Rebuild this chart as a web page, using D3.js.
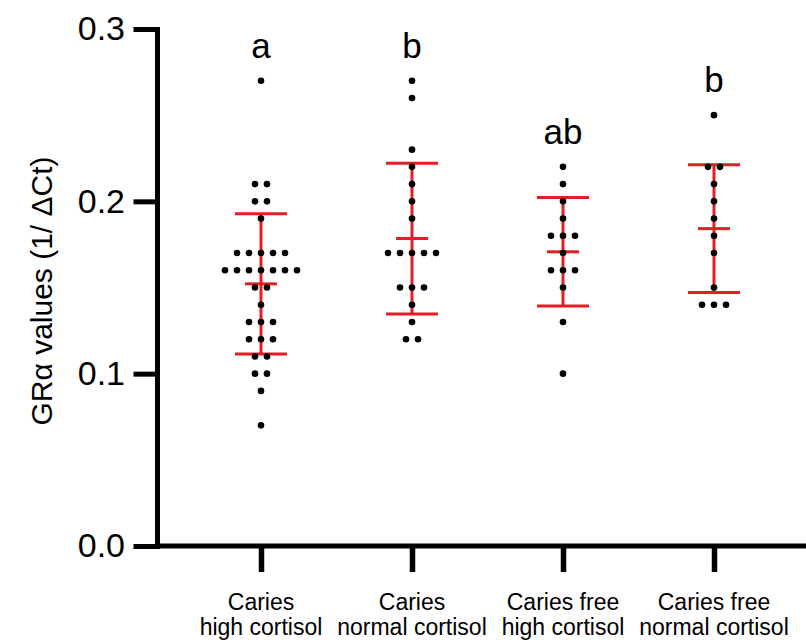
<!DOCTYPE html>
<html>
<head>
<meta charset="utf-8">
<script src="https://cdn.jsdelivr.net/npm/d3@7"></script>
<style>
  body { margin: 0; background: #fff; }
  text { font-family: Arial, "Liberation Sans", sans-serif; fill: #000; }
</style>
</head>
<body>
<div id="chart"></div>
<script>
// values (rounded to 0.01 like the dots)
const cariesHigh = [0.27, 0.21, 0.21, 0.20, 0.20, 0.19, 0.17, 0.17, 0.17, 0.17, 0.17,
  0.16, 0.16, 0.16, 0.16, 0.16, 0.16, 0.16, 0.15, 0.15, 0.14, 0.13, 0.13, 0.13,
  0.12, 0.12, 0.12, 0.11, 0.11, 0.10, 0.10, 0.09, 0.07];
const cariesNormal = [0.27, 0.26, 0.23, 0.22, 0.21, 0.20, 0.19, 0.17, 0.17, 0.17, 0.17,
  0.17, 0.15, 0.15, 0.15, 0.14, 0.13, 0.12, 0.12];
const freeHigh = [0.22, 0.21, 0.20, 0.19, 0.18, 0.18, 0.18, 0.17, 0.16, 0.16, 0.16,
  0.15, 0.13, 0.10];
const freeNormal = [0.25, 0.22, 0.22, 0.21, 0.20, 0.19, 0.18, 0.17, 0.15, 0.14, 0.14, 0.14];

const groups = ["ch", "cn", "fh", "fn"];
const groupValues = [cariesHigh, cariesNormal, freeHigh, freeNormal];
const groupLabels = [
  ["Caries", "high cortisol"],
  ["Caries", "normal cortisol"],
  ["Caries free", "high cortisol"],
  ["Caries free", "normal cortisol"],
];
const sigLetters = ["a", "b", "ab", "b"];
const yTicks = [0, 0.1, 0.2, 0.3];

const width = 806, height = 643;
const axisX = 157, axisY = 546;
const red = "#e31e24";

const svg = d3.select("#chart").append("svg")
  .attr("width", width)
  .attr("height", height);

const y = d3.scaleLinear().domain([0, 0.3]).range([axisY, 29]);
const x = d3.scalePoint().domain(groups).range([261, 714]);

// axes
const yAxis = svg.append("g")
  .attr("transform", `translate(${axisX},0)`)
  .call(d3.axisLeft(y).tickValues(yTicks).tickSize(21).tickSizeOuter(0)
    .tickPadding(11).tickFormat(d3.format(".1f")));
yAxis.selectAll("line, path").attr("stroke", "#000").attr("stroke-width", 5)
  .attr("stroke-linecap", "square");
yAxis.selectAll("text").style("font-size", "34px")
  .style("font-family", "Arial, 'Liberation Sans', sans-serif");

const xAxis = svg.append("g")
  .attr("transform", `translate(0,${axisY})`)
  .call(d3.axisBottom(x).tickSize(26).tickFormat(""));
xAxis.select(".domain").remove();
xAxis.selectAll("line").attr("stroke", "#000").attr("stroke-width", 5.5);
xAxis.append("line")
  .attr("x1", axisX).attr("x2", width)
  .attr("stroke", "#000").attr("stroke-width", 5);

const labels = svg.append("g")
  .selectAll("text")
  .data(groupLabels)
  .enter()
  .append("text")
  .attr("text-anchor", "middle")
  .style("font-size", "23px");
labels.selectAll("tspan")
  .data((d, i) => d.map((t, k) => ({ t, k, g: groups[i] })))
  .enter()
  .append("tspan")
  .attr("x", (d) => x(d.g))
  .attr("y", (d) => axisY + 64 + d.k * 25)
  .text((d) => d.t);

// y title
svg.append("text")
  .attr("transform", "translate(52,291) rotate(-90)")
  .attr("text-anchor", "middle")
  .style("font-size", "30px")
  .text("GRα values (1/ ΔCt)");

// error bars: mean ± SD
const stats = groupValues.map((v, i) => {
  const m = d3.mean(v), sd = d3.deviation(v);
  return { g: groups[i], mean: m, lo: m - sd, hi: m + sd };
});

const bars = svg.append("g").selectAll("g")
  .data(stats)
  .enter()
  .append("g")
  .attr("stroke", red)
  .attr("stroke-width", 3);
bars.append("line")
  .attr("x1", (d) => x(d.g)).attr("x2", (d) => x(d.g))
  .attr("y1", (d) => y(d.lo)).attr("y2", (d) => y(d.hi));
[["hi", 26], ["lo", 26], ["mean", 16]].forEach(([k, w]) => {
  bars.append("line")
    .attr("x1", (d) => x(d.g) - w).attr("x2", (d) => x(d.g) + w)
    .attr("y1", (d) => y(d[k])).attr("y2", (d) => y(d[k]));
});

// scatter dots, spread sideways within each 0.01 row
const dotGap = 12;
const dots = [];
groupValues.forEach((v, i) => {
  const rows = d3.group(v, (d) => d.toFixed(2));
  rows.forEach((arr) => {
    arr.forEach((val, k) => {
      dots.push({ g: groups[i], v: val, off: (k - (arr.length - 1) / 2) * dotGap });
    });
  });
});

svg.append("g").selectAll("circle")
  .data(dots)
  .enter()
  .append("circle")
  .attr("cx", (d) => x(d.g) + d.off)
  .attr("cy", (d) => y(d.v))
  .attr("r", 3.3)
  .attr("fill", "#000");

// significance letters
svg.append("g").selectAll("text")
  .data(sigLetters)
  .enter()
  .append("text")
  .attr("x", (d, i) => x(groups[i]))
  .attr("y", (d, i) => y(d3.max(groupValues[i])) - 23)
  .attr("text-anchor", "middle")
  .style("font-size", "35px")
  .text((d) => d);
</script>
</body>
</html>
